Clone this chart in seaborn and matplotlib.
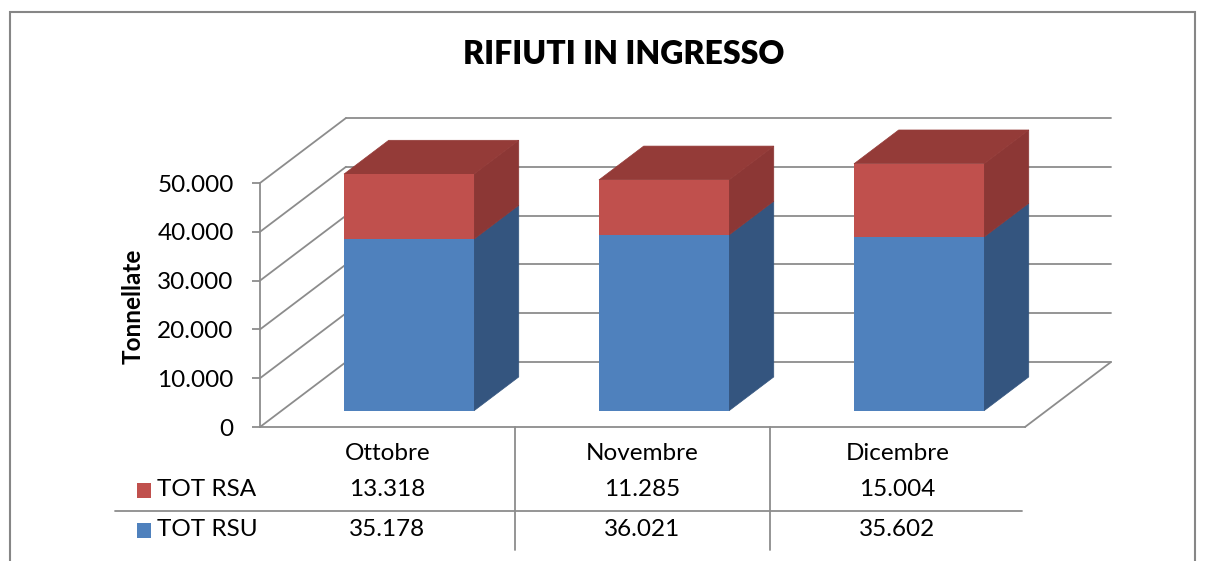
import matplotlib
matplotlib.use("Agg")
import matplotlib.pyplot as plt
import matplotlib.transforms as mtransforms
from matplotlib.patches import Polygon, Rectangle
from matplotlib.lines import Line2D
import seaborn as sns
import pandas as pd

# data
months = ["Ottobre", "Novembre", "Dicembre"]
tot_rsa = [13318, 11285, 15004]
tot_rsu = [35178, 36021, 35602]
series_names = ["TOT RSA", "TOT RSU"]
y_ticks = [0, 10000, 20000, 30000, 40000, 50000]

red, red_side, red_top = "#C0504D", "#8C3735", "#943B38"
blue, blue_side = "#4F81BD", "#34557F"
grey = "#8C8C8C"


def fmt(v):
    return f"{v:,}".replace(",", ".")


sns.set_style("white")
plt.rcParams["font.family"] = ["Lato", "DejaVu Sans"]
plt.rcParams["text.color"] = "black"
plt.rcParams["ytick.labelcolor"] = "black"

W, H = 1207, 561
fig = plt.figure(figsize=(W / 100, H / 100), dpi=100)
ax = fig.add_axes([260 / W, 1 - 427 / H, 765 / W, 244 / H])

df = pd.DataFrame({"mese": months, "RSA": tot_rsa, "RSU": tot_rsu})
df["totale"] = df["RSA"] + df["RSU"]

sns.barplot(data=df, x="mese", y="totale", color=red, width=0.51,
            saturation=1, errorbar=None, linewidth=0, ax=ax, zorder=5)
sns.barplot(data=df, x="mese", y="RSU", color=blue, width=0.51,
            saturation=1, errorbar=None, linewidth=0, ax=ax, zorder=6)

ax.set_xlim(-0.5, 2.5)
ax.set_ylim(0, 50000)

# oblique depth of the 3d box (data units)
DX, DY = 86 / 255, 65 / (244 / 50000)
FX, FY = 0.25 * DX, 0.25 * DY      # front face of bars
BX, BY = 0.52 * DX, 0.52 * DY      # bar depth

shift = mtransforms.Affine2D().translate(FX, FY) + ax.transData
reds = ax.patches[:3]
blues = ax.patches[3:6]
for rp, bp in zip(reds, blues):
    rp.set_transform(shift)
    bp.set_transform(shift)
    rp.set_clip_on(False)
    bp.set_clip_on(False)
    x0 = rp.get_x() + FX
    x1 = x0 + rp.get_width()
    y0 = FY
    ym = bp.get_height() + FY
    yt = rp.get_height() + FY
    faces = [
        ([(x1, y0), (x1 + BX, y0 + BY), (x1 + BX, ym + BY), (x1, ym)], blue_side),
        ([(x1, ym), (x1 + BX, ym + BY), (x1 + BX, yt + BY), (x1, yt)], red_side),
        ([(x0, yt), (x1, yt), (x1 + BX, yt + BY), (x0 + BX, yt + BY)], red_top),
    ]
    for pts, c in faces:
        ax.add_patch(Polygon(pts, closed=True, facecolor=c, edgecolor=c,
                             lw=0.5, zorder=4, clip_on=False))

# walls and floor
for v in y_ticks:
    ax.add_line(Line2D([-0.5 + DX, 2.5 + DX], [v + DY, v + DY], color=grey,
                       lw=1.3, zorder=1, clip_on=False))
    ax.add_line(Line2D([-0.5, -0.5 + DX], [v, v + DY], color=grey,
                       lw=1.3, zorder=1, clip_on=False))
ax.add_line(Line2D([2.5, 2.5 + DX], [0, DY], color=grey, lw=1.3,
                   zorder=1, clip_on=False))

for s in ["top", "right"]:
    ax.spines[s].set_visible(False)
ax.spines["left"].set_bounds(0, 50000)
for s in ["left", "bottom"]:
    ax.spines[s].set_color(grey)
    ax.spines[s].set_linewidth(1.3)
ax.set_yticks(y_ticks)
ax.set_yticklabels([fmt(v) for v in y_ticks], fontsize=17.5)
ax.tick_params(axis="y", left=True, length=6, width=1.3, color=grey, pad=13)
ax.tick_params(axis="x", bottom=False, labelbottom=False)
ax.set_xlabel("")
ax.set_ylabel("")
ax.patch.set_alpha(0)

fig.text(133 / W, 1 - 306 / H, "Tonnellate", rotation=90, ha="center",
         va="center", fontsize=17.5, fontweight="bold")
fig.text(624 / W, 1 - 55 / H, "RIFIUTI IN INGRESSO", ha="center",
         va="center", fontsize=23, fontweight="heavy")

# data table
tr = mtransforms.blended_transform_factory(ax.transData, fig.transFigure)
for i, m in enumerate(months):
    ax.text(i, 1 - 453 / H, m, transform=tr, ha="center", va="center",
            fontsize=17.5, clip_on=False)
    ax.text(i, 1 - 490 / H, fmt(tot_rsa[i]), transform=tr, ha="center",
            va="center", fontsize=17.5, clip_on=False)
    ax.text(i, 1 - 530 / H, fmt(tot_rsu[i]), transform=tr, ha="center",
            va="center", fontsize=17.5, clip_on=False)
for xv in [0.5, 1.5]:
    ax.add_line(Line2D([xv, xv], [1 - 427 / H, 1 - 550 / H], transform=tr,
                       color=grey, lw=1.3, clip_on=False))
fig.add_artist(Line2D([115 / W, 1022 / W], [1 - 511 / H, 1 - 511 / H],
                      color=grey, lw=1.3))
for name, c, yy in zip(series_names, [red, blue], [490, 530]):
    fig.add_artist(Rectangle((137 / W, 1 - (yy + 7.5) / H), 14 / W, 15 / H,
                             facecolor=c, edgecolor="none"))
    fig.text(157 / W, 1 - yy / H, name, ha="left", va="center", fontsize=17.5)

# outer chart frame
fig.add_artist(Rectangle((10 / W, -0.05), 1185 / W, 1.05 - 12 / H,
                         fill=False, edgecolor="#868686", lw=1.5))

fig.savefig("out.png", dpi=100)
